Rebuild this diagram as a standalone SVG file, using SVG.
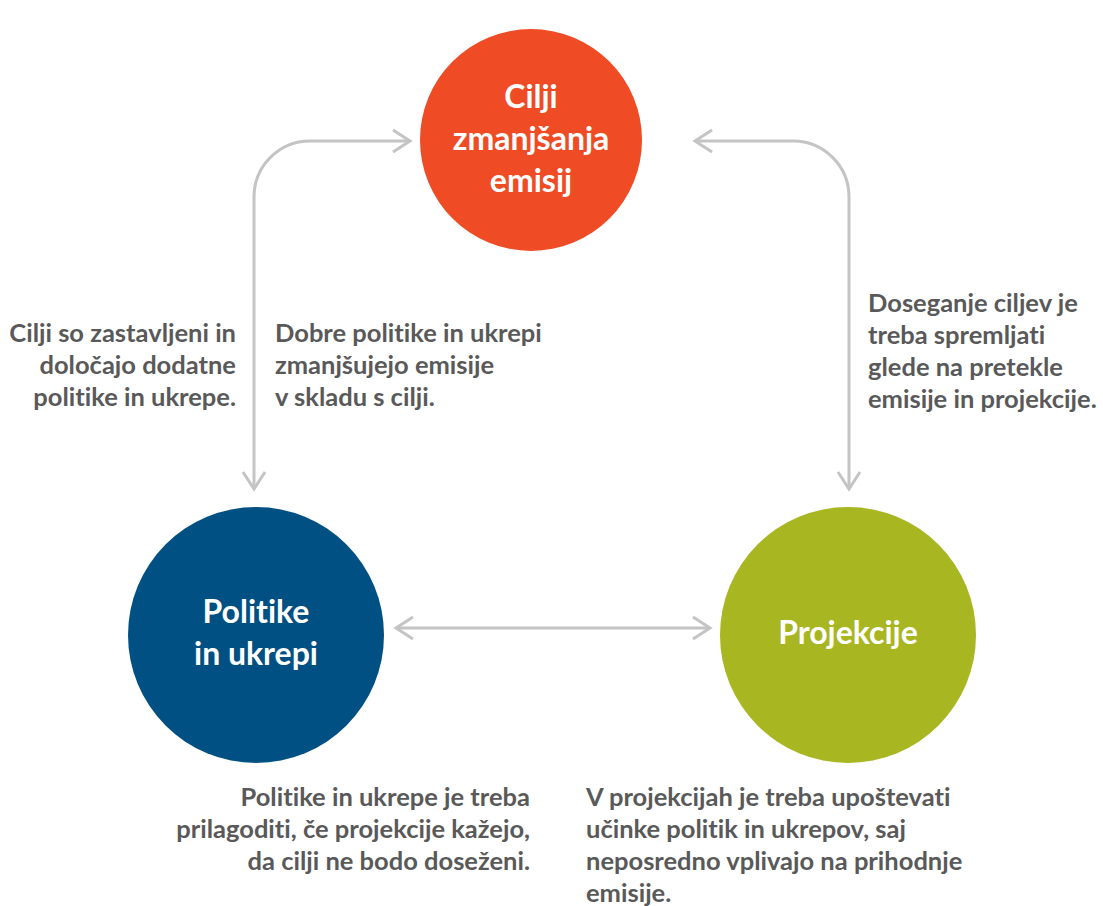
<svg xmlns="http://www.w3.org/2000/svg" width="1103" height="906" viewBox="0 0 1103 906">
  <style>
    .conn { fill: none; stroke: #c4c4c4; stroke-width: 3; }
    .circle-label { font-family: Lato, "Liberation Sans", sans-serif; font-weight: bold; font-size: 32px; fill: #ffffff; text-anchor: middle; font-variant-ligatures: none; }
    .note { font-family: Lato, "Liberation Sans", sans-serif; font-weight: bold; font-size: 25.5px; fill: #595959; font-variant-ligatures: none; }
    .right { text-anchor: end; }
  </style>
  <defs>
    <marker id="chev" viewBox="-20 -13 23 26" refX="0" refY="0" markerWidth="23" markerHeight="26" markerUnits="userSpaceOnUse" orient="auto-start-reverse">
      <path d="M -17 -11 L 0 0 L -17 11" fill="none" stroke="#c4c4c4" stroke-width="3"/>
    </marker>
  </defs>
  <rect width="1103" height="906" fill="#ffffff"/>

  <g id="connectors">
    <path class="conn" d="M 254 489 L 254 197 A 56 56 0 0 1 310 141 L 410 141" marker-start="url(#chev)" marker-end="url(#chev)"/>
    <path class="conn" d="M 695 141 L 793 141 A 56 56 0 0 1 849 197 L 849 489" marker-start="url(#chev)" marker-end="url(#chev)"/>
    <path class="conn" d="M 396 628 L 710 628" marker-start="url(#chev)" marker-end="url(#chev)"/>
  </g>

  <g id="node-cilji">
    <circle cx="531" cy="140" r="111" fill="#ef4b24"/>
    <text class="circle-label" x="531" y="108">Cilji</text>
    <text class="circle-label" x="531" y="150">zmanjšanja</text>
    <text class="circle-label" x="531" y="192">emisij</text>
  </g>

  <g id="node-politike">
    <circle cx="256" cy="635" r="128" fill="#005083"/>
    <text class="circle-label" x="256" y="623">Politike</text>
    <text class="circle-label" x="256" y="665">in ukrepi</text>
  </g>

  <g id="node-projekcije">
    <circle cx="848" cy="635" r="128" fill="#a8b621"/>
    <text class="circle-label" x="848" y="644">Projekcije</text>
  </g>

  <g id="note-left">
    <text class="note right" x="236" y="342">Cilji so zastavljeni in</text>
    <text class="note right" x="236" y="374">določajo dodatne</text>
    <text class="note right" x="236" y="406">politike in ukrepe.</text>
  </g>

  <g id="note-center-left">
    <text class="note" x="275" y="342">Dobre politike in ukrepi</text>
    <text class="note" x="275" y="374">zmanjšujejo emisije</text>
    <text class="note" x="275" y="406">v skladu s cilji.</text>
  </g>

  <g id="note-right">
    <text class="note" x="868" y="312">Doseganje ciljev je</text>
    <text class="note" x="868" y="344">treba spremljati</text>
    <text class="note" x="868" y="376">glede na pretekle</text>
    <text class="note" x="868" y="408">emisije in projekcije.</text>
  </g>

  <g id="note-bottom-left">
    <text class="note right" x="530" y="806">Politike in ukrepe je treba</text>
    <text class="note right" x="530" y="838">prilagoditi, če projekcije kažejo,</text>
    <text class="note right" x="530" y="870">da cilji ne bodo doseženi.</text>
  </g>

  <g id="note-bottom-right">
    <text class="note" x="586" y="806">V projekcijah je treba upoštevati</text>
    <text class="note" x="586" y="838">učinke politik in ukrepov, saj</text>
    <text class="note" x="586" y="870">neposredno vplivajo na prihodnje</text>
    <text class="note" x="586" y="902">emisije.</text>
  </g>
</svg>
